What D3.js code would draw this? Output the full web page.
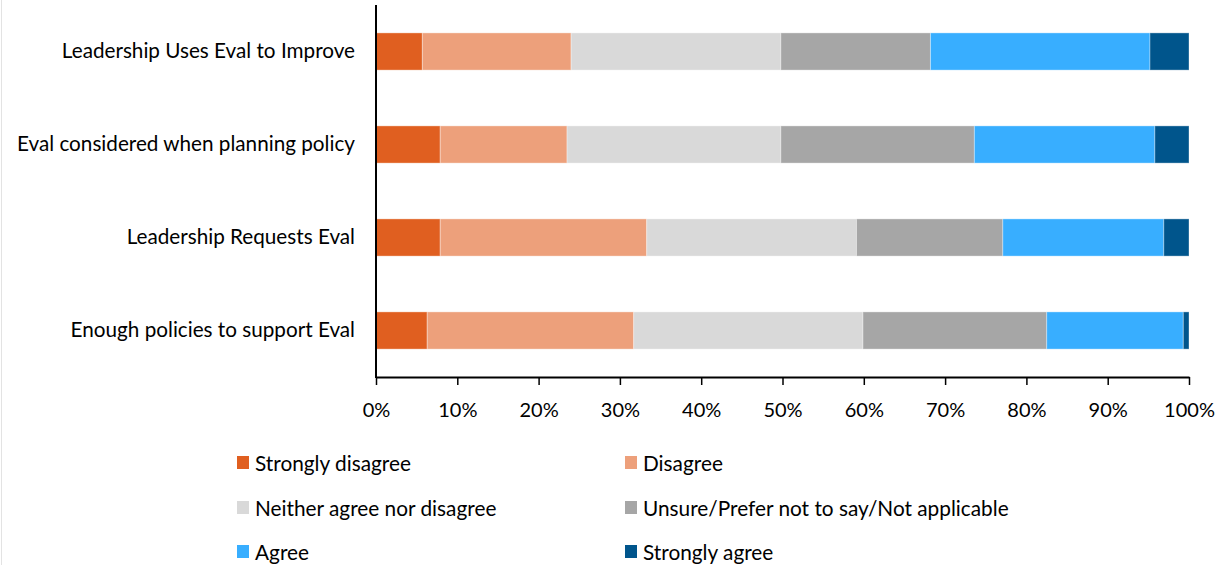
<!DOCTYPE html>
<html>
<head>
<meta charset="utf-8">
<script src="https://cdn.jsdelivr.net/npm/d3@7"></script>
<style>
  html, body { margin: 0; padding: 0; background: #fff; }
  svg { display: block; font-family: Lato, "Open Sans", sans-serif; }
</style>
</head>
<body>
<svg id="chart" width="1225" height="565"></svg>
<script>
// Survey questions (top to bottom)
const categories = [
  "Leadership Uses Eval to Improve",
  "Eval considered when planning policy",
  "Leadership Requests Eval",
  "Enough policies to support Eval"
];

// Response options, in stacking order
const seriesNames = [
  "Strongly disagree",
  "Disagree",
  "Neither agree nor disagree",
  "Unsure/Prefer not to say/Not applicable",
  "Agree",
  "Strongly agree"
];

// Share of responses (%) per question, one array per response option
const stronglyDisagree = [5.7, 7.9, 7.9, 6.3];
const disagree         = [18.3, 15.6, 25.4, 25.4];
const neither          = [25.8, 26.3, 25.8, 28.2];
const unsure           = [18.4, 23.8, 18.0, 22.6];
const agree            = [27.0, 22.2, 19.8, 16.8];
const stronglyAgree    = [4.8, 4.2, 3.1, 0.7];

const seriesColors = ["#E05F20", "#EDA07B", "#D9D9D9", "#A6A6A6", "#38AEFF", "#00558C"];

const tickValues = [0, 10, 20, 30, 40, 50, 60, 70, 80, 90, 100];
const tickLabels = ["0%", "10%", "20%", "30%", "40%", "50%", "60%", "70%", "80%", "90%", "100%"];

const seriesValues = [stronglyDisagree, disagree, neither, unsure, agree, stronglyAgree];
const rows = categories.map((c, i) => {
  const r = { category: c };
  seriesNames.forEach((s, j) => { r[s] = seriesValues[j][i]; });
  return r;
});

const svg = d3.select("#chart");

// faint frame line at the left edge
svg.append("line")
  .attr("x1", 1.5).attr("x2", 1.5).attr("y1", 0).attr("y2", 565)
  .attr("stroke", "#e3e3e3").attr("stroke-width", 1);

const x = d3.scaleLinear().domain([0, 100]).range([376, 1189]);
const y = d3.scaleBand().domain(categories).range([5, 377])
  .paddingInner(0.6).paddingOuter(0.3);

const stack = d3.stack().keys(seriesNames);
const stacked = stack(rows);
const color = d3.scaleOrdinal().domain(seriesNames).range(seriesColors);

// stacked bars
svg.append("g").selectAll("g")
  .data(stacked)
  .join("g")
  .attr("fill", d => color(d.key))
  .selectAll("rect")
  .data(d => d)
  .join("rect")
  .attr("x", d => x(d[0]))
  .attr("y", d => y(d.data.category))
  .attr("width", d => x(d[1]) - x(d[0]))
  .attr("height", y.bandwidth())
  .attr("stroke", "rgba(255,255,255,0.35)")
  .attr("stroke-width", 1);

// category axis
const yAxis = svg.append("g")
  .attr("transform", "translate(376,0)")
  .call(d3.axisLeft(y).tickSize(0).tickPadding(21));
yAxis.select(".domain").remove();
yAxis.selectAll("text")
  .attr("font-family", "Lato, sans-serif")
  .attr("font-size", 20.7)
  .attr("fill", "#000");

svg.append("line")
  .attr("x1", 376).attr("x2", 376).attr("y1", 5).attr("y2", 378)
  .attr("stroke", "#000").attr("stroke-width", 2);

// percentage axis
const xAxis = svg.append("g")
  .attr("transform", "translate(0,377)")
  .call(d3.axisBottom(x).tickValues(tickValues)
    .tickFormat((d, i) => tickLabels[i]).tickSize(8).tickSizeOuter(0).tickPadding(18));
xAxis.select(".domain").attr("stroke", "#000").attr("stroke-width", 2);
xAxis.selectAll(".tick line").attr("stroke", "#000").attr("stroke-width", 1.5);
xAxis.selectAll("text")
  .attr("font-family", "Lato, sans-serif")
  .attr("font-size", 20)
  .attr("fill", "#000");

// legend
const legendCols = [237, 625];
const legendRows = [456, 501, 545];
const legend = svg.append("g").selectAll("g")
  .data(seriesNames)
  .join("g")
  .attr("transform", (d, i) => `translate(${legendCols[i % 2]},${legendRows[Math.floor(i / 2)]})`);
legend.append("rect")
  .attr("width", 12).attr("height", 13)
  .attr("fill", d => color(d));
legend.append("text")
  .attr("x", 18).attr("y", 7)
  .attr("dy", "0.36em")
  .attr("font-size", 20.8)
  .attr("fill", "#000")
  .text(d => d);
</script>
</body>
</html>
